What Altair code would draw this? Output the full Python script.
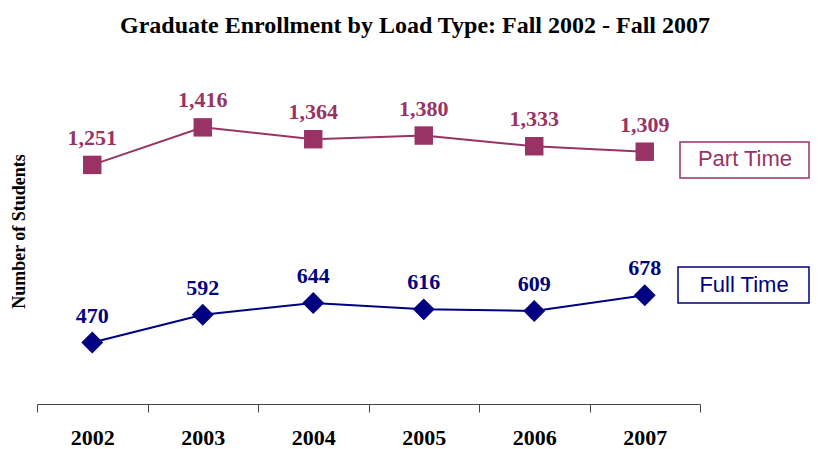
import altair as alt
import pandas as pd

years = ["2002", "2003", "2004", "2005", "2006", "2007"]
part_time = [1251, 1416, 1364, 1380, 1333, 1309]
full_time = [470, 592, 644, 616, 609, 678]
series_names = ["Part Time", "Full Time"]
series_colors = ["#993366", "#000080"]
title_text = "Graduate Enrollment by Load Type:  Fall 2002 - Fall 2007"
y_title = "Number of Students"

rows = []
for y, v in zip(years, part_time):
    rows.append({"year": y, "value": v, "series": "Part Time"})
for y, v in zip(years, full_time):
    rows.append({"year": y, "value": v, "series": "Full Time"})
df = pd.DataFrame(rows)

W, H = 663, 364
SERIF = "Liberation Serif"
SANS = "Liberation Sans"

x = alt.X(
    "year:O",
    scale=alt.Scale(type="band", paddingInner=0, paddingOuter=0),
    axis=alt.Axis(
        title=None,
        tickBand="extent",
        labelAngle=0,
        labelFont=SERIF,
        labelFontSize=22,
        labelFontWeight="bold",
        labelColor="black",
        labelBaseline="alphabetic",
        labelPadding=32,
        tickSize=8,
        tickColor="#444444",
        domainColor="#444444",
        tickWidth=1,
        domainWidth=1,
        grid=False,
    ),
)
y = alt.Y(
    "value:Q",
    scale=alt.Scale(domain=[200, 1800], nice=False, zero=False),
    axis=alt.Axis(
        title=y_title,
        domain=False,
        ticks=False,
        labels=False,
        grid=False,
        titleFont=SERIF,
        titleFontSize=18,
        titleFontWeight="bold",
        titleColor="black",
        titleX=-18,
        titleY=191,
        titleAngle=-90,
        titleBaseline="middle",
        titleAlign="center",
    ),
)
color = alt.Color("series:N", scale=alt.Scale(domain=series_names, range=series_colors), legend=None)
shape = alt.Shape("series:N", scale=alt.Scale(domain=series_names, range=["square", "diamond"]), legend=None)
size = alt.Size("series:N", scale=alt.Scale(domain=series_names, range=[340, 480]), legend=None)

base = alt.Chart(df)
lines = base.mark_line(strokeWidth=2).encode(x=x, y=y, color=color, detail="series:N")
points = base.mark_point(filled=True, opacity=1).encode(x=x, y=y, color=color, shape=shape, size=size)
labels = base.mark_text(
    font=SERIF, fontSize=22, fontWeight="bold", baseline="alphabetic", dy=-20
).encode(x=x, y=y, color=color, text=alt.Text("value:Q", format=",d"))

one = pd.DataFrame({"k": [0]})
title = alt.Chart(one).mark_text(
    font=SERIF, fontSize=24, fontWeight="bold", baseline="alphabetic", align="center", color="black"
).encode(x=alt.value(378), y=alt.value(-7), text=alt.value(title_text))

box_pt = alt.Chart(one).mark_rect(fill="white", stroke=series_colors[0], strokeWidth=1.5).encode(
    x=alt.value(643), x2=alt.value(772), y=alt.value(102), y2=alt.value(138)
)
txt_pt = alt.Chart(one).mark_text(font=SANS, fontSize=22, color=series_colors[0], baseline="middle").encode(
    x=alt.value(708), y=alt.value(119), text=alt.value(series_names[0])
)
box_ft = alt.Chart(one).mark_rect(fill="white", stroke=series_colors[1], strokeWidth=1.5).encode(
    x=alt.value(641), x2=alt.value(772), y=alt.value(227), y2=alt.value(263)
)
txt_ft = alt.Chart(one).mark_text(font=SANS, fontSize=22, color=series_colors[1], baseline="middle").encode(
    x=alt.value(707), y=alt.value(245), text=alt.value(series_names[1])
)

chart = alt.layer(lines, points, labels, title, box_pt, txt_pt, box_ft, txt_ft).properties(
    width=W,
    height=H,
    autosize=alt.AutoSizeParams(type="none"),
    padding={"left": 29, "top": 32, "right": 110, "bottom": 45},
).configure(background="white").configure_view(stroke=None)

chart.save("out.html", embed_options={"renderer": "svg", "actions": False})
